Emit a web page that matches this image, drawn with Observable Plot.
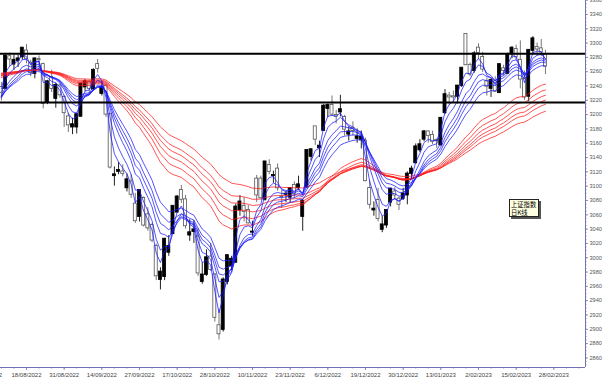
<!DOCTYPE html>
<html><head><meta charset="utf-8">
<script src="https://cdn.jsdelivr.net/npm/d3@7"></script>
<script src="https://cdn.jsdelivr.net/npm/@observablehq/plot@0.6"></script>
<style>
body{margin:0;background:#fff;}
#wrap{position:relative;width:607px;height:380px;overflow:hidden;}
#legend{position:absolute;left:509px;top:199px;width:30px;height:18px;background:#ffffe1;border:1px solid #222;box-shadow:2px 2px 0 #555;font-family:'Noto Sans CJK SC';font-size:6.3px;line-height:7.5px;padding:1px 0 0 1px;box-sizing:border-box;color:#000;}
</style></head><body>
<div id="wrap"><div id="legend">上证指数<br>日K线</div></div>
<script>
const dates = [
"2022-08-10","2022-08-11","2022-08-12","2022-08-15","2022-08-16","2022-08-17","2022-08-18","2022-08-19","2022-08-22","2022-08-23","2022-08-24","2022-08-25","2022-08-26","2022-08-29","2022-08-30","2022-08-31",
"2022-09-01","2022-09-02","2022-09-05","2022-09-06","2022-09-07","2022-09-08","2022-09-09","2022-09-13","2022-09-14","2022-09-15","2022-09-16","2022-09-19","2022-09-20","2022-09-21","2022-09-22","2022-09-23","2022-09-26","2022-09-27","2022-09-28","2022-09-29","2022-09-30",
"2022-10-10","2022-10-11","2022-10-12","2022-10-13","2022-10-14","2022-10-17","2022-10-18","2022-10-19","2022-10-20","2022-10-21","2022-10-24","2022-10-25","2022-10-26","2022-10-27","2022-10-28","2022-10-31",
"2022-11-01","2022-11-02","2022-11-03","2022-11-04","2022-11-07","2022-11-08","2022-11-09","2022-11-10","2022-11-11","2022-11-14","2022-11-15","2022-11-16","2022-11-17","2022-11-18","2022-11-21","2022-11-22","2022-11-23","2022-11-24","2022-11-25","2022-11-28","2022-11-29","2022-11-30",
"2022-12-01","2022-12-02","2022-12-05","2022-12-06","2022-12-07","2022-12-08","2022-12-09","2022-12-12","2022-12-13","2022-12-14","2022-12-15","2022-12-16","2022-12-19","2022-12-20","2022-12-21","2022-12-22","2022-12-23","2022-12-26","2022-12-27","2022-12-28","2022-12-29","2022-12-30",
"2023-01-03","2023-01-04","2023-01-05","2023-01-06","2023-01-09","2023-01-10","2023-01-11","2023-01-12","2023-01-13","2023-01-16","2023-01-17","2023-01-18","2023-01-19","2023-01-20","2023-01-30","2023-01-31",
"2023-02-01","2023-02-02","2023-02-03","2023-02-06","2023-02-07","2023-02-08","2023-02-09","2023-02-10","2023-02-13","2023-02-14","2023-02-15","2023-02-16","2023-02-17","2023-02-20","2023-02-21","2023-02-22","2023-02-23","2023-02-24"];

const open = [
3238,3236,3281,3270,3275,3280,3289,3272,3257,3277,3270,3217,3252,3222,3240,3224,
3197,3182,3182,3197,3238,3245,3235,3270,3229,3240,3200,3114,3120,3120,3097,3106,3075,3057,3083,3060,3045,
3016,2969,2973,3007,3033,3063,3094,3081,3031,3036,3029,2966,2976,3001,2976,2905,
2899,2966,2988,2993,3066,3072,3066,3035,3110,3110,3081,3129,3114,3124,3085,3088,3084,3101,3097,3057,3098,3141,
3183,3153,3177,3208,3213,3199,3203,3196,3172,3181,3166,3164,3163,3097,3066,3080,3039,3045,3077,3092,3082,3082,
3087,3117,3132,3150,3165,3176,3171,3164,3157,3202,3226,3225,3225,3240,3312,3269,
3261,3293,3280,3246,3236,3246,3230,3264,3257,3284,3291,3276,3249,3225,3289,3294,3292,3283];

const high = [
3245,3282,3286,3283,3283,3294,3298,3276,3279,3282,3272,3248,3262,3244,3243,3227,
3202,3195,3201,3244,3249,3248,3264,3277,3246,3243,3202,3127,3133,3130,3117,3116,3090,3094,3085,3070,3048,
3019,2986,3027,3031,3073,3087,3101,3087,3053,3052,3041,2993,3011,3020,2978,2928,
2972,3004,3002,3075,3087,3084,3073,3051,3115,3114,3134,3137,3121,3131,3094,3092,3097,3106,3114,3081,3150,3152,
3183,3163,3214,3215,3226,3206,3227,3199,3183,3190,3180,3177,3167,3108,3078,3097,3058,3067,3097,3098,3085,3097,
3120,3128,3159,3165,3178,3177,3177,3166,3196,3235,3231,3233,3241,3265,3312,3272,
3288,3299,3287,3251,3250,3253,3271,3269,3286,3295,3297,3303,3261,3290,3309,3300,3305,3290];

const low = [
3219,3236,3267,3262,3266,3276,3271,3253,3250,3258,3208,3214,3231,3209,3223,3182,
3175,3172,3173,3197,3232,3229,3234,3258,3226,3196,3124,3100,3116,3113,3092,3083,3048,3050,3043,3037,3021,
2968,2955,2968,3002,3033,3063,3076,3040,3023,3020,2974,2963,2974,2981,2910,2885,
2896,2962,2982,2993,3058,3050,3047,3030,3077,3082,3079,3116,3104,3093,3069,3077,3077,3083,3094,3037,3098,3135,
3157,3140,3177,3196,3198,3187,3197,3170,3163,3170,3160,3152,3106,3068,3058,3050,3035,3041,3071,3081,3066,3080,
3074,3109,3131,3147,3162,3160,3158,3153,3156,3200,3213,3217,3215,3238,3269,3253,
3258,3277,3259,3226,3224,3231,3230,3254,3257,3278,3276,3236,3220,3218,3283,3282,3281,3256];

const close = [
3230,3282,3277,3276,3278,3293,3278,3258,3278,3276,3215,3246,3236,3241,3227,3202,
3185,3186,3200,3243,3246,3236,3262,3264,3238,3200,3126,3116,3122,3117,3109,3088,3051,3094,3045,3041,3024,
2974,2980,3026,3016,3072,3085,3081,3044,3035,3039,2978,2976,3000,2983,2916,2893,
2969,3003,2998,3071,3078,3064,3048,3036,3087,3083,3134,3120,3115,3097,3085,3089,3097,3089,3102,3079,3150,3151,
3165,3156,3212,3213,3200,3197,3207,3179,3176,3177,3169,3168,3107,3074,3068,3054,3046,3066,3096,3087,3074,3089,
3117,3124,3155,3158,3176,3170,3162,3163,3195,3228,3224,3224,3240,3265,3269,3256,
3285,3286,3263,3239,3248,3232,3270,3261,3284,3293,3280,3249,3224,3290,3306,3291,3287,3267];

// GMMA: short (blue) and long (red) EMA periods, with their values on the first visible day
const bluePeriods = [3,5,8,10,12,15];
const blueSeeds   = [3236,3232,3226,3224,3224,3226];
const redPeriods  = [30,35,40,45,50,60];
const redSeeds    = [3252,3254,3255,3256,3257,3258];

const levels = [3285,3217];

const xTickLabels = ["5/08/2022","18/08/2022","31/08/2022","14/09/2022","27/09/2022","17/10/2022","28/10/2022","10/11/2022","23/11/2022","6/12/2022","19/12/2022","30/12/2022","13/01/2023","2/02/2023","15/02/2023","28/02/2023"];
const yTicks = d3.range(2860, 3361, 20);

// ---------- build ----------
const rows = dates.map((d, j) => ({j, o: open[j], h: high[j], l: low[j], c: close[j], up: close[j] > open[j]}));
function ema(period, seed) {
  const a = 2 / (period + 1); let v = seed;
  return close.map((c, j) => { if (j > 0) v = a * c + (1 - a) * v; return {j, v, period}; });
}
const blueLines = bluePeriods.flatMap((p, k) => ema(p, blueSeeds[k]));
const redLines = redPeriods.flatMap((p, k) => ema(p, redSeeds[k]));

const firstTick = dates.indexOf("2022-08-18") - 9;
const xTicks = xTickLabels.map((_, k) => firstTick + 9 * k);
const xDomain = [-0.213, 139.57];
const yDomain = [2846.6, 3359.5];
const W = 607, H = 380, mR = 22, mB = 13;
const kx = (xDomain[1] - xDomain[0]) / (W - mR);   // data units per pixel
const ky = (yDomain[1] - yDomain[0]) / (H - mB);
const axisColor = "#7272b4";
const xMinor = d3.range(-3, 140, 3);
const yMinor = d3.range(2850, 3361, 5);

const chart = Plot.plot({
  width: W, height: H,
  marginLeft: 0, marginRight: mR, marginTop: 0, marginBottom: mB,
  x: {type: "linear", domain: xDomain, axis: null},
  y: {domain: yDomain, axis: null},
  style: {fontFamily: "Liberation Sans, Arial, sans-serif", background: "transparent", overflow: "hidden"},
  marks: [
    Plot.ruleX(rows, {x: "j", y1: "l", y2: "h", stroke: d => d.up ? "#222" : "#777", strokeWidth: 1, clip: true}),
    Plot.rect(rows, {x1: d => d.j - 0.36, x2: d => d.j + 0.36,
      y1: d => Math.min(d.o, d.c), y2: d => Math.max(d.o, d.c) + 0.6,
      fill: d => d.up ? "#000" : "#fff", stroke: d => d.up ? "#000" : "#555", strokeWidth: 0.8, clip: true}),
    Plot.line(redLines, {x: "j", y: "v", z: "period", stroke: "#ff1a1a", strokeWidth: 0.75, clip: true}),
    Plot.line(blueLines, {x: "j", y: "v", z: "period", stroke: "#1a1aff", strokeWidth: 0.75, clip: true}),
    Plot.ruleY(levels, {y: d => d, stroke: "#000", strokeWidth: 2}),
    // right axis
    Plot.ruleX([xDomain[1]], {x: d => d, stroke: axisColor, strokeWidth: 1}),
    Plot.ruleY(yMinor, {y: d => d, x1: xDomain[1], x2: xDomain[1] + 1.5 * kx, stroke: axisColor, strokeWidth: 0.8}),
    Plot.ruleY(yTicks, {y: d => d, x1: xDomain[1], x2: xDomain[1] + 3 * kx, stroke: axisColor, strokeWidth: 0.8}),
    Plot.text(yTicks, {x: xDomain[1], y: d => d, text: d => String(d), dx: 4, textAnchor: "start", fontSize: 5.6, fill: "#555"}),
    // bottom axis
    Plot.ruleY([yDomain[0]], {y: d => d, stroke: axisColor, strokeWidth: 1}),
    Plot.ruleX(xMinor, {x: d => d, y1: yDomain[0], y2: yDomain[0] - 1.5 * ky, stroke: axisColor, strokeWidth: 0.8}),
    Plot.ruleX(xTicks, {x: d => d, y1: yDomain[0], y2: yDomain[0] - 3 * ky, stroke: axisColor, strokeWidth: 0.8}),
    Plot.text(xTicks, {x: d => d, y: yDomain[0], text: (d, i) => xTickLabels[i], dy: 8, fontSize: 6, fill: "#444"})
  ]
});
document.getElementById("wrap").prepend(chart);
</script>
</body></html>
